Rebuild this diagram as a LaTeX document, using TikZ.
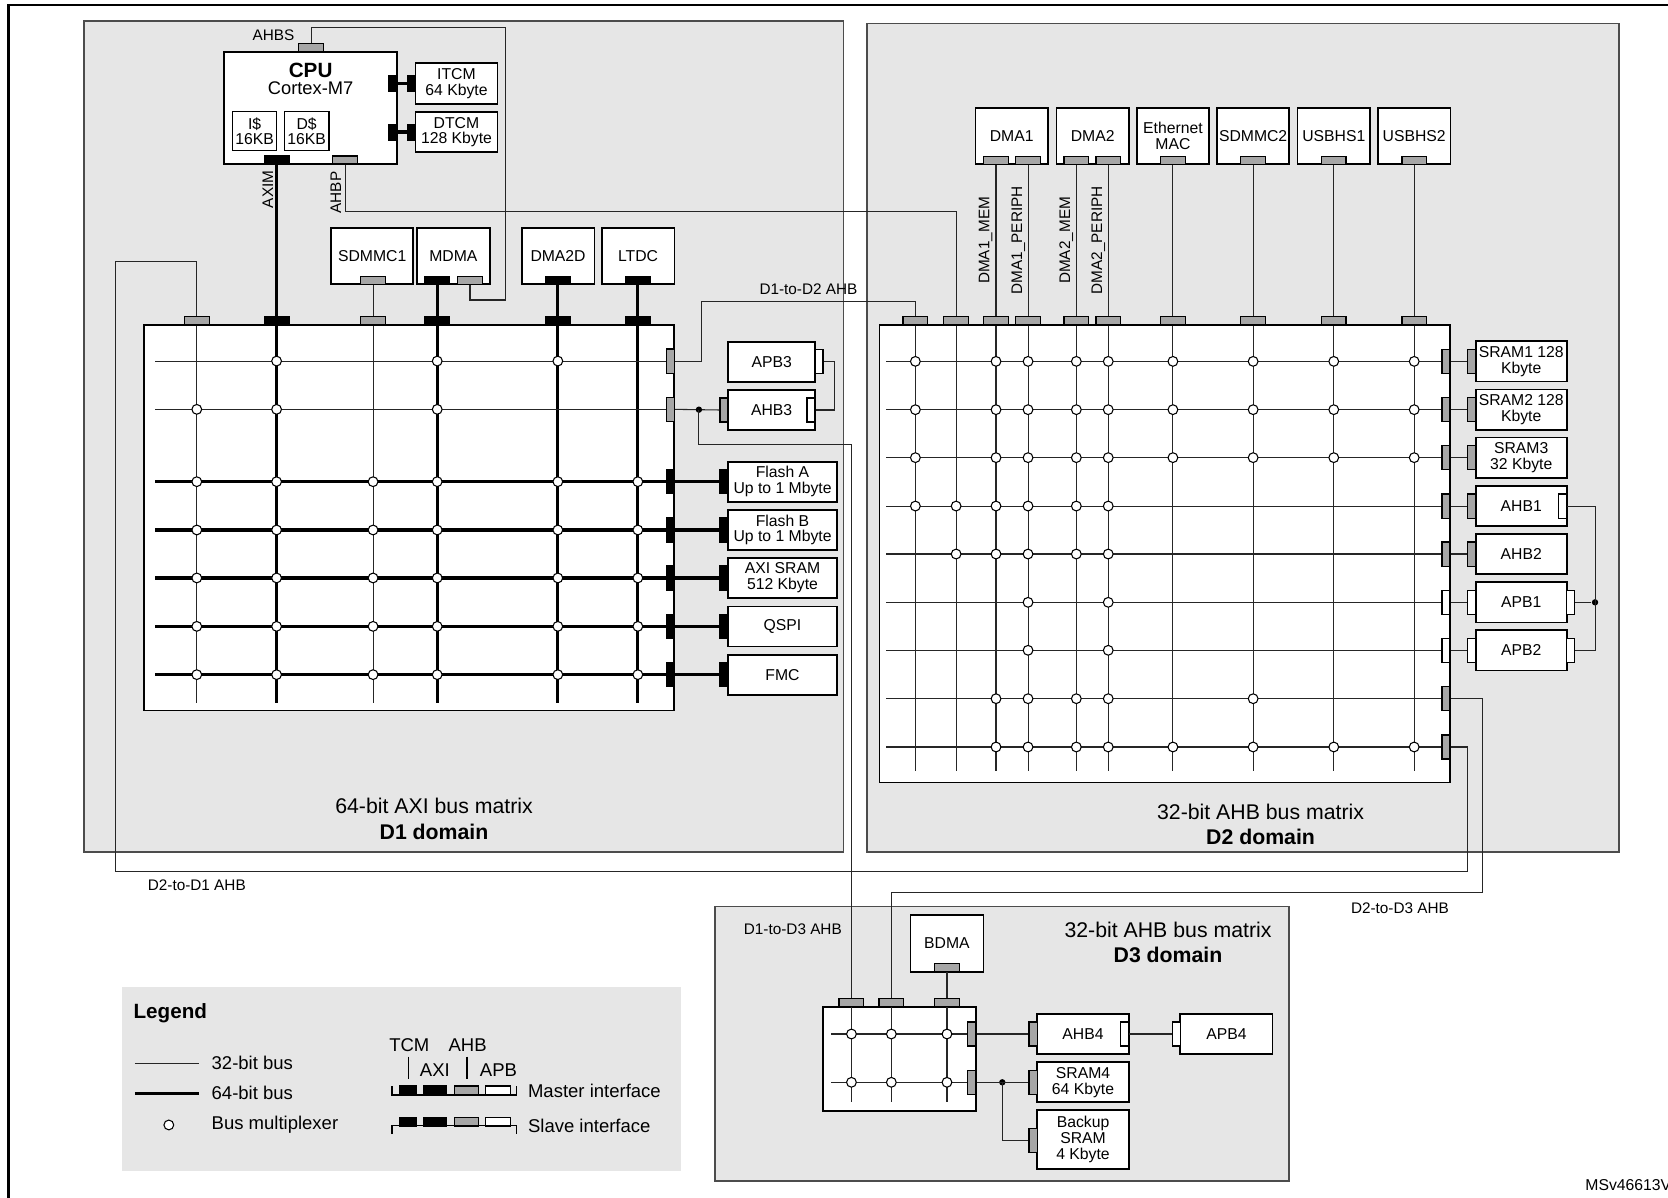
\documentclass[tikz,border=0pt]{standalone}
\usepackage{fontspec}
\setmainfont{Liberation Sans}
\usetikzlibrary{positioning,calc}

\definecolor{domgray}{gray}{0.902}
\definecolor{portgray}{gray}{0.65}
\definecolor{edgegray}{gray}{0.3}

\tikzset{
  blk/.style={draw, fill=white, line width=0.8pt, inner sep=0pt, align=center,
    font=\fontsize{7.4}{7.4}\selectfont},
  mtx/.style={draw, fill=white, line width=0.8pt, inner sep=0pt},
  hp/.style={draw, line width=0.6pt, inner sep=0pt, minimum width=11.6pt, minimum height=3.8pt},
  vp/.style={draw, line width=0.6pt, inner sep=0pt, minimum width=3.8pt, minimum height=11.4pt},
  tp/.style={draw, fill=black, inner sep=0pt, minimum width=3.8pt, minimum height=7.5pt},
  bus/.style={line width=0.5pt, draw=black!85},
  wbus/.style={line width=1.5pt},
  mux/.style={circle, draw, fill=white, line width=0.5pt, inner sep=0pt, minimum size=4.6pt},
  joint/.style={circle, fill=black, inner sep=0pt, minimum size=3pt},
  lbl/.style={font=\fontsize{7.2}{8}\selectfont, inner sep=0pt},
  leg/.style={font=\fontsize{8.7}{10}\selectfont, inner sep=0pt, anchor=west},
  dom/.style={draw=edgegray, fill=domgray, line width=0.8pt},
  domname/.style={font=\fontsize{10}{12}\selectfont, align=center},
}

\begin{document}
\begin{tikzpicture}[x=0.5pt, y=-0.5pt]
\useasboundingbox (0,0) rectangle (1568,1126);
\draw[line width=1.1pt] (8,1140) -- (8,5) -- (1580,5);

% domains
\draw[dom] (79,20) rectangle (793,801);
\draw[dom] (815,22) rectangle (1522,801);
\draw[dom] (672,852) rectangle (1212,1110);
\fill[domgray] (115,928) rectangle (640,1101);

\node[domname] (d1name) at (408,770) {64-bit AXI bus matrix\\\textbf{D1 domain}};
\node[domname] (d2name) at (1185,775) {32-bit AHB bus matrix\\\textbf{D2 domain}};
\node[domname] (d3name) at (1098,886) {32-bit AHB bus matrix\\\textbf{D3 domain}};

% CPU
\node[blk, minimum width=81.4pt, minimum height=52.8pt] (cpu) at (292,101.4) {};
\node[font=\bfseries\fontsize{9.7}{10}\selectfont] (cpuname) at (292,66) {CPU};
\node[font=\fontsize{8.6}{9}\selectfont] (cpucore) at (292,83) {Cortex-M7};
\node[blk, line width=0.6pt, minimum width=20.8pt, minimum height=18.3pt] (icache) at (239.4,123.3) {I\$\\16KB};
\node[blk, line width=0.6pt, minimum width=21pt, minimum height=18.3pt] (dcache) at (288.2,123.3) {D\$\\16KB};
\node[hp, fill=black] (axim) at (260,150.4) {};
\node[hp, fill=portgray] (ahbp) at (324.5,150.4) {};
\node[hp, fill=portgray] (ahbs) at (292.4,44.6) {};
\node[lbl] (ahbsname) at (257,33) {AHBS};
\node[lbl, rotate=90] (aximname) at (251.8,178) {AXIM};
\node[lbl, rotate=90] (ahbpname) at (315.6,181) {AHBP};

\node[blk, minimum width=38.6pt, minimum height=19.2pt] (itcm) at (429.1,78.7) {ITCM\\64 Kbyte};
\node[blk, minimum width=38.6pt, minimum height=19.1pt] (dtcm) at (429.1,124.1) {DTCM\\128 Kbyte};
\node[tp] (cpui) at (369.3,78.7) {};
\node[tp] (cpud) at (369.3,124.1) {};
\node[tp] (itcmp) at (386.6,78.7) {};
\node[tp] (dtcmp) at (386.6,124.1) {};
\draw[wbus] (cpui) -- (itcmp);
\draw[wbus] (cpud) -- (dtcmp);

% D1 masters
\foreach \n/\x/\w/\t in {sdmmca/349.9/38.65pt/SDMMC1, mdma/426.2/34.45pt/MDMA,
    dmad/524.6/34.15pt/DMA2D, ltdc/599.8/34.15pt/LTDC}
  \node[blk, minimum width=\w, minimum height=26.2pt] (\n) at (\x,240.8) {\t};
\node[hp, fill=portgray] (sdmmcap) at (350.7,263.5) {};
\node[hp, fill=black] (mdmam) at (411,263.5) {};
\node[hp, fill=portgray] (mdmas) at (441.8,263.5) {};
\node[hp, fill=black] (dmadp) at (524.4,263.5) {};
\node[hp, fill=black] (ltdcp) at (599.6,263.5) {};

% D1 matrix
\node[mtx, minimum width=249.3pt, minimum height=181.25pt] (axi) at (384.6,486.75) {};
\foreach \x/\f/\s [count=\c] in {185/portgray/bus, 260/black/wbus, 350.7/portgray/bus,
    411/black/wbus, 524.4/black/wbus, 599.6/black/wbus} {
  \node[hp, fill=\f] (at\c) at (\x,301.6) {};
  \draw[\s] (at\c.south) -- ++(0,355);
}
\foreach \y/\f/\s [count=\r] in {339.4/portgray/bus, 384.8/portgray/bus, 452.8/black/wbus,
    498.2/black/wbus, 543.3/black/wbus, 588.8/black/wbus, 634.2/black/wbus} {
  \node[vp, fill=\f] (ar\r) at (630,\y) {};
  \draw[\s] (ar\r.west) -- ++(-479.6,0);
}
\foreach \r/\cl in {1/{2,4,5}, 2/{1,2,4}, 3/{1,2,3,4,5,6}, 4/{1,2,3,4,5,6},
    5/{1,2,3,4,5,6}, 6/{1,2,3,4,5,6}, 7/{1,2,3,4,5,6}}
  \foreach \c in \cl
    \node[mux] (am\r-\c) at (at\c |- ar\r) {};

\draw[wbus] (axim.south) -- (at2.north);
\draw[bus] (sdmmcap.south) -- (at3.north);
\draw[wbus] (mdmam.south) -- (at4.north);
\draw[wbus] (dmadp.south) -- (at5.north);
\draw[wbus] (ltdcp.south) -- (at6.north);

% D1 slaves
\foreach \n/\y/\t in {fla/452.8/{Flash A\\Up to 1 Mbyte}, flb/498.2/{Flash B\\Up to 1 Mbyte},
    axisram/543.3/{AXI SRAM\\512 Kbyte}, qspi/588.8/QSPI, fmc/634.2/FMC} {
  \node[blk, minimum width=51pt, minimum height=18.8pt] (\n) at (735.6,\y) {\t};
  \node[vp, fill=black] (\n-p) at (680.6,\y) {};
}
\foreach \n [count=\r from 3] in {fla,flb,axisram,qspi,fmc}
  \draw[wbus] (ar\r.east) -- (\n-p.west);

\node[blk, minimum width=40.8pt, minimum height=18.8pt] (apbc) at (725.4,340) {APB3};
\node[vp, fill=white] (apbc-p) at (769.8,340) {};
\node[blk, minimum width=40.8pt, minimum height=18.8pt] (ahbc) at (725.4,385.4) {AHB3};
\node[vp, fill=portgray] (ahbc-p) at (680.6,385.4) {};
\node[vp, fill=white] (ahbc-q) at (762.3,385.4) {};
\draw[bus] (ar2.east) -- (ahbc-p.west);
\draw[bus] (ahbc-q.east) -- ++(18,0) |- (apbc-p.east);
\node[joint] (jd1) at (657,385.1) {};

% D2 masters
\foreach \n/\x/\t in {dmaa/951/DMA1, dmab/1027.2/DMA2, eth/1102.6/{Ethernet\\MAC},
    sdmmcb/1178/SDMMC2, usba/1253.8/USBHS1, usbb/1329.4/USBHS2}
  \node[blk, minimum width=34pt, minimum height=26.2pt] (\n) at (\x,128) {\t};
\foreach \n/\x/\t in {lma/926.6/DMA1\_MEM, lpa/957.2/DMA1\_PERIPH,
    lmb/1002.4/DMA2\_MEM, lpb/1032.5/DMA2\_PERIPH}
  \node[lbl, rotate=90] (\n) at (\x,226) {\t};

% D2 matrix
\node[mtx, minimum width=268.15pt, minimum height=215.1pt] (ahbm) at (1094.95,520.6) {};
\foreach \x [count=\c] in {860.5, 898.8, 936.3, 966.4, 1011.8, 1041.8, 1102.6, 1178, 1253.8, 1329.4} {
  \node[hp, fill=portgray] (bt\c) at (\x,301.6) {};
  \draw[bus] (bt\c.south) -- ++(0,418.3);
}
\foreach \y/\f [count=\r] in {339.7/portgray, 385.1/portgray, 430.2/portgray, 475.7/portgray,
    520.8/portgray, 566.2/white, 611.3/white, 656.8/portgray, 702.2/portgray} {
  \node[vp, fill=\f] (br\r) at (1359.25,\y) {};
  \draw[bus] (br\r.west) -- ++(-521.6,0);
}
\foreach \r/\cl in {1/{1,3,4,5,6,7,8,9,10}, 2/{1,3,4,5,6,7,8,9,10}, 3/{1,3,4,5,6,7,8,9,10},
    4/{1,2,3,4,5,6}, 5/{2,3,4,5,6}, 6/{4,6}, 7/{4,6}, 8/{3,4,5,6,8}, 9/{3,4,5,6,7,8,9,10}}
  \foreach \c in \cl
    \node[mux] (bm\r-\c) at (bt\c |- br\r) {};

\foreach \x [count=\c from 3] in {936.3, 966.4, 1011.8, 1041.8, 1102.6, 1178, 1253.8, 1329.4} {
  \node[hp, fill=portgray] (mp\c) at (\x,150.8) {};
  \draw[bus] (mp\c.south) -- (bt\c.north);
}

% D2 slaves
\foreach \n/\y/\t/\f in {sra/339.7/{SRAM1 128\\Kbyte}/portgray, srb/385.1/{SRAM2 128\\Kbyte}/portgray,
    src/430.2/{SRAM3\\32 Kbyte}/portgray, ahba/475.7/AHB1/portgray, ahbb/520.8/AHB2/portgray,
    apba/566.2/APB1/white, apbb/611.3/APB2/white} {
  \node[blk, minimum width=42.75pt, minimum height=19pt] (\n) at (1430,\y) {\t};
  \node[vp, fill=\f] (\n-p) at (1383.4,\y) {};
}
\foreach \n [count=\r] in {sra,srb,src,ahba,ahbb,apba,apbb}
  \draw[bus] (br\r.east) -- (\n-p.west);
\node[vp, fill=white] (ahba-q) at (1469.1,475.7) {};
\node[vp, fill=white] (apba-q) at (1476.6,566.2) {};
\node[vp, fill=white] (apbb-q) at (1476.6,611.3) {};
\node[joint] (jd2) at (1499.4,566.2) {};
\draw[bus] (ahba-q.east) -| (jd2.center) |- (apbb-q.east);
\draw[bus] (jd2) -- (apba-q.east);

% D3
\node[blk, minimum width=34.3pt, minimum height=26.65pt] (bdma) at (890.2,886.75) {BDMA};
\node[hp, fill=portgray] (bdma-p) at (890.2,909.5) {};
\node[mtx, minimum width=72pt, minimum height=48.9pt] (d3m) at (845.5,995.2) {};
\foreach \x [count=\c] in {800.4, 837.9, 890.2} {
  \node[hp, fill=portgray] (ct\c) at (\x,942.4) {};
  \draw[bus] (ct\c.south) -- ++(0,89.3);
}
\foreach \y [count=\r] in {972, 1017.4} {
  \node[vp, fill=portgray] (cr\r) at (913.6,\y) {};
  \draw[bus] (cr\r.west) -- ++(-128.4,0);
}
\foreach \r in {1,2}
  \foreach \c in {1,2,3}
    \node[mux] (cm\r-\c) at (ct\c |- cr\r) {};
\draw[bus] (bdma-p.south) -- (ct3.north);

\node[blk, minimum width=43pt, minimum height=19.1pt] (ahbd) at (1018.1,972) {AHB4};
\node[vp, fill=portgray] (ahbd-p) at (971.2,972) {};
\node[vp, fill=white] (ahbd-q) at (1057,972) {};
\node[blk, minimum width=43.35pt, minimum height=19.1pt] (apbd) at (1152.9,972) {APB4};
\node[vp, fill=white] (apbd-p) at (1106,972) {};
\node[blk, minimum width=43pt, minimum height=18.8pt] (srd) at (1018.1,1017.4) {SRAM4\\64 Kbyte};
\node[vp, fill=portgray] (srd-p) at (971.2,1017.4) {};
\node[blk, minimum width=43pt, minimum height=27.9pt] (bkp) at (1018.1,1071.3) {Backup\\SRAM\\4 Kbyte};
\node[vp, fill=portgray] (bkp-p) at (971.2,1072) {};
\node[joint] (jd3) at (942.2,1017.4) {};
\draw[bus] (cr1.east) -- (ahbd-p.west);
\draw[bus] (ahbd-q.east) -- (apbd-p.west);
\draw[bus] (cr2.east) -- (srd-p.west);
\draw[bus] (jd3.center) |- (bkp-p.west);

% links between domains
\coordinate (d12) at (860.5,283.6);
\draw[bus] (ar1.east) -- ++(24.6,0) |- (d12) -- (bt1.north);
\node[lbl] (d12name) at (760,272) {D1-to-D2 AHB};
\coordinate (ahbpk) at (898.8,199);
\draw[bus] (ahbp.south) |- (ahbpk) -- (bt2.north);
\coordinate (ahbsk) at (475,26);
\coordinate (ahbsl) at (475,282);
\draw[bus] (ahbs.north) |- (ahbsk) -- (ahbsl) -| (mdmas.south);
\coordinate (d13) at (800.4,417.7);
\draw[bus] (jd1.center) |- (d13) -- (ct1.north);
\node[lbl] (d13name) at (745.3,873.3) {D1-to-D3 AHB};
\coordinate (d21a) at (1379.5,818.8);
\coordinate (d21b) at (108.4,246);
\draw[bus] (br9.east) -| (d21a) -| (d21b) -| (at1.north);
\node[lbl] (d21name) at (185,832) {D2-to-D1 AHB};
\coordinate (d23) at (1393.5,839);
\draw[bus] (br8.east) -| (d23) -| (ct2.north);
\node[lbl] (d23name) at (1316,854) {D2-to-D3 AHB};

% legend
\node[leg, font=\bfseries\fontsize{9.7}{11}\selectfont] (legname) at (125.2,952.6) {Legend};
\coordinate (l32a) at (126.9,999.6);
\coordinate (l32b) at (186.7,999.6);
\draw[bus] (l32a) -- (l32b);
\node[leg] (l32) at (198.6,999.6) {32-bit bus};
\coordinate (l64a) at (126.9,1027.8);
\coordinate (l64b) at (186.7,1027.8);
\draw[wbus] (l64a) -- (l64b);
\node[leg] (l64) at (198.6,1027.8) {64-bit bus};
\node[mux] (lmux) at (158.7,1057.5) {};
\node[leg] (lmuxname) at (198.6,1057.5) {Bus multiplexer};
\node[leg, anchor=center] (ltcm) at (384.8,982.3) {TCM};
\node[leg, anchor=center] (lahb) at (439.6,982.3) {AHB};
\node[leg, anchor=center] (laxi) at (408.8,1005.8) {AXI};
\node[leg, anchor=center] (lapb) at (468.6,1005.8) {APB};
\draw[line width=0.6pt] (383.8,993.3) -- (383.8,1014.6);
\draw[line width=0.6pt] (438.9,993.3) -- (438.9,1014.6);
\foreach \x/\w/\f [count=\i] in {383.2/7.85pt/black, 408.8/10.9pt/black, 438.4/11.4pt/portgray, 468.3/11.6pt/white} {
  \node[draw, line width=0.6pt, inner sep=0pt, fill=\f, minimum width=\w, minimum height=4.25pt] (lm\i) at (\x,1025.1) {};
  \node[draw, line width=0.6pt, inner sep=0pt, fill=\f, minimum width=\w, minimum height=4.25pt] (ls\i) at (\x,1054.4) {};
}
\draw[line width=0.6pt] (368.5,1020.9) |- (485.7,1029.4) -- (485.7,1020.9);
\draw[line width=0.6pt] (368.5,1066) |- (485.7,1058.2) -- (485.7,1066);
\node[leg] (lmaster) at (496,1025.3) {Master interface};
\node[leg] (lslave) at (496,1058.2) {Slave interface};

\node[lbl, anchor=west, font=\fontsize{7.4}{8}\selectfont] (msv) at (1490,1114) {MSv46613V};
\end{tikzpicture}
\end{document}
